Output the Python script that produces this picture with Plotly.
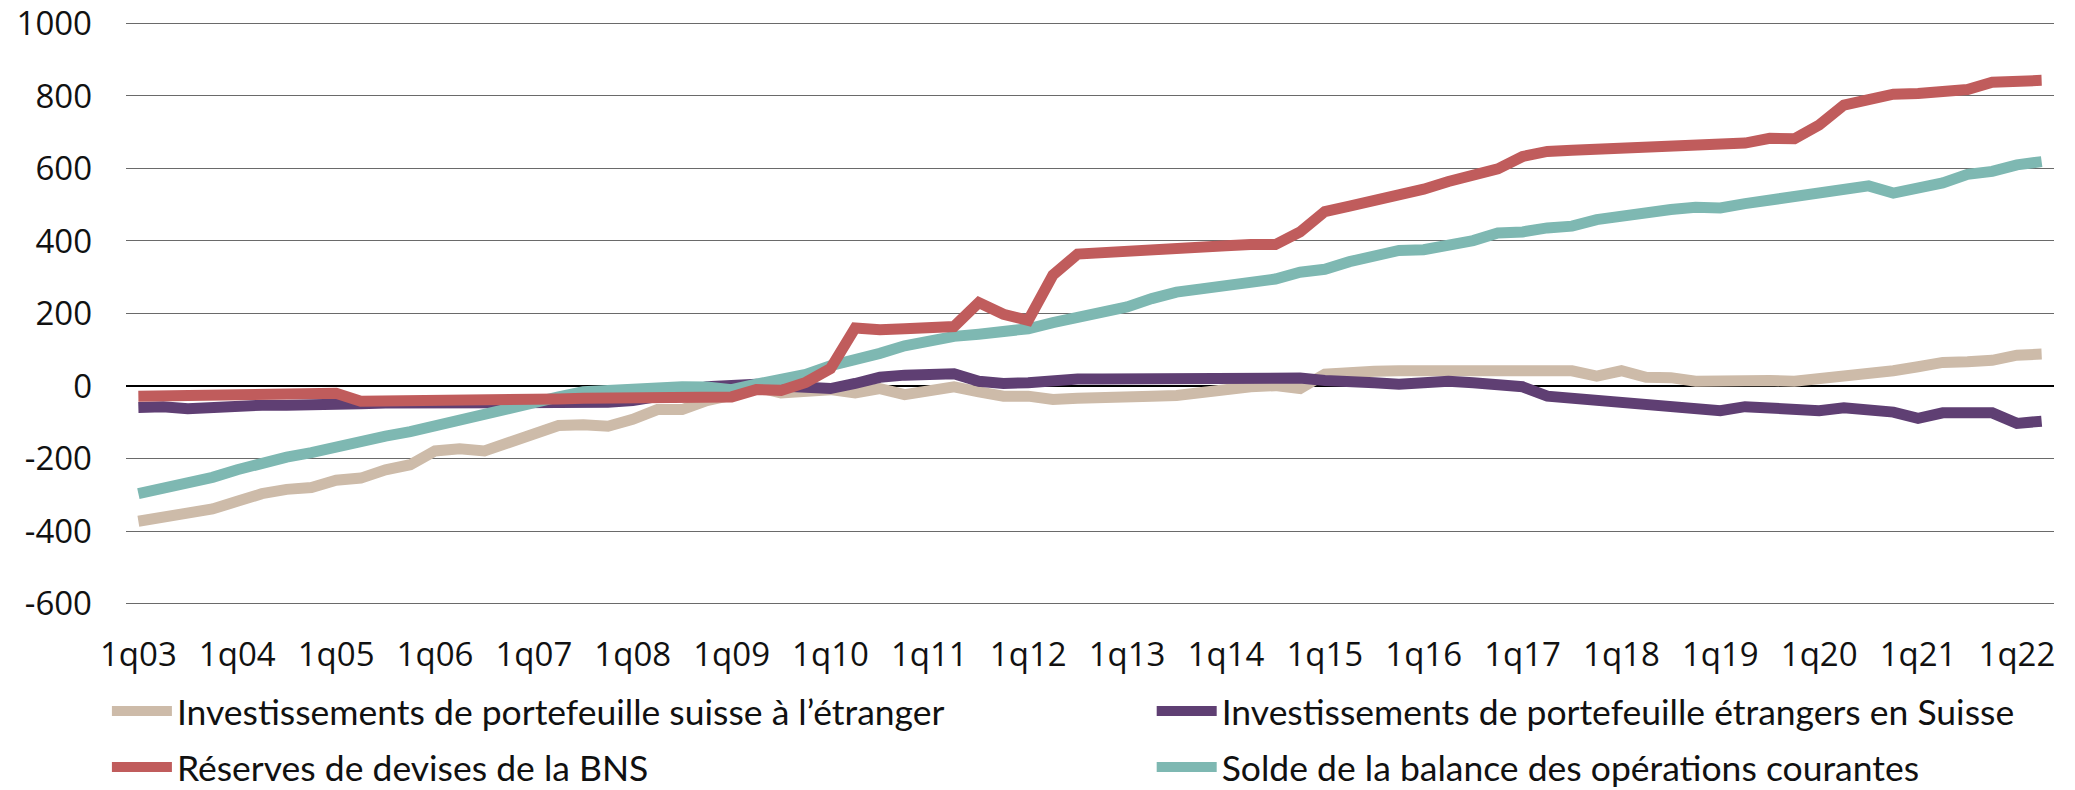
import plotly.graph_objects as go

# quarters 1q03 .. 2q22
quarters = [f"{q}q{y:02d}" for y in range(3, 23) for q in range(1, 5)][:78]
tick_labels = [f"1q{y:02d}" for y in range(3, 23)]
y_ticks = [-600, -400, -200, 0, 200, 400, 600, 800, 1000]

portefeuille_suisse_etranger = [
    -373, -362, -347, -339, -318, -297, -285, -280, -260, -254,
    -231, -217, -179, -173, -179, -155, -132, -109, -107, -111,
    -92, -65, -65, -40, -25, -3, -19, -14, -10, -19,
    -7, -24, -10, -2, -16, -28, -28, -37, -34, -34,
    -28, -28, -26, -16, -10, -2, 1, -7, 33, 39,
    41, 42, 42, 42, 42, 42, 44, 44, 42, 27,
    42, 24, 23, 13, 15, 13, 15, 13, 19, 30,
    34, 42, 53, 65, 67, 71, 85, 88,
]

portefeuille_etrangers_suisse = [
    -59, -57, -63, -58, -57, -53, -53, -53, -55, -49,
    -47, -47, -46, -46, -46, -46, -47, -49, -49, -45,
    -40, -30, -18, -2, 3, 5, 0, -5, -7, 7,
    24, 30, 32, 34, 13, 7, 9, 15, 19, 19,
    19, 24, 24, 21, 21, 23, 24, 22, 15, 15,
    9, 5, 9, 13, 9, 1, -2, -28, -34, -36,
    -45, -48, -57, -63, -68, -57, -60, -65, -68, -60,
    -68, -72, -89, -74, -74, -74, -103, -97,
]

reserves_bns = [
    -28, -27, -26, -24, -23, -22, -21, -20, -20, -42,
    -42, -42, -42, -42, -42, -40, -38, -36, -34, -34,
    -33, -30, -31, -30, -30, -10, -12, 10, 48, 160,
    155, 158, 161, 164, 230, 198, 181, 306, 364, 369,
    371, 375, 378, 384, 387, 390, 390, 425, 481, 496,
    511, 523, 543, 564, 578, 599, 633, 647, 650, 653,
    657, 658, 662, 665, 667, 670, 683, 682, 720, 775,
    790, 805, 807, 816, 818, 838, 842, 843,
]

solde_courant = [
    -297, -283, -271, -252, -231, -211, -196, -184, -167, -150,
    -138, -126, -109, -92, -74, -57, -45, -30, -16, -13,
    -10, 0, -2, -3, -10, 5, 15, 32, 56, 71,
    90, 111, 125, 137, 143, 148, 158, 175, 190, 206,
    218, 241, 259, 268, 276, 288, 295, 314, 322, 343,
    362, 374, 376, 387, 401, 422, 425, 436, 441, 459,
    469, 483, 487, 493, 491, 503, 513, 525, 534, 539,
    552, 532, 545, 560, 584, 592, 610, 619,
]

# name, values, colour, legend box (left column = legend, right column = legend2)
series = [
    ("Investissements de portefeuille suisse à l’étranger", portefeuille_suisse_etranger, "#CDBBA9", "legend"),
    ("Investissements de portefeuille étrangers en Suisse", portefeuille_etrangers_suisse, "#5F3F73", "legend2"),
    ("Solde de la balance des opérations courantes", solde_courant, "#7EB8B2", "legend2"),
    ("Réserves de devises de la BNS", reserves_bns, "#C05C5C", "legend"),
]

fig = go.Figure()
for i, (name, vals, color, leg) in enumerate(series):
    fig.add_trace(go.Scatter(
        x=quarters, y=vals, name=name, mode="lines",
        line=dict(color=color, width=11),
        legend=leg, legendgroup=name,
        legendrank=1 if i < 2 else 2,
    ))

font_main = "Open Sans, Noto Sans, sans-serif"
legend_font = dict(family="Lato, Open Sans, sans-serif", size=35.5, color="#111111")

# y range padded a little so the -600 and 1000 gridlines are not clipped at the edges
y_range = [-604, 1004]

fig.update_layout(
    width=2075, height=790,
    margin=dict(l=126, r=21, t=22, b=185),
    plot_bgcolor="white", paper_bgcolor="white",
    font=dict(family=font_main, size=33, color="#111111"),
    showlegend=True,
    legend=dict(
        xref="paper", yref="container", x=-0.0099, y=0.1375,
        xanchor="left", yanchor="top", orientation="v",
        font=legend_font, itemwidth=60, tracegroupgap=7,
    ),
    legend2=dict(
        xref="paper", yref="container", x=0.5320, y=0.1375,
        xanchor="left", yanchor="top", orientation="v",
        font=legend_font, itemwidth=60, tracegroupgap=7,
    ),
    xaxis=dict(
        type="category", categoryorder="array", categoryarray=quarters,
        range=[-0.5, 77.5], automargin=False,
        tickmode="array", tickvals=tick_labels, ticktext=tick_labels,
        ticks="", showline=False, showgrid=False, zeroline=False,
        ticklabelstandoff=27, ticklabeloverflow="allow",
    ),
    # short tick marks along the zero line
    xaxis2=dict(
        overlaying="x", anchor="free",
        position=(0 - y_range[0]) / (y_range[1] - y_range[0]),
        range=[-0.5, 77.5], automargin=False,
        tickmode="array", tickvals=[1.5 + 4 * k for k in range(20)],
        ticks="outside", ticklen=7, tickwidth=1.5, tickcolor="black",
        showticklabels=False, showline=False, showgrid=False, zeroline=False,
    ),
    yaxis=dict(
        range=y_range, automargin=False,
        tickmode="array", tickvals=y_ticks, ticktext=[str(v) for v in y_ticks],
        showgrid=True, gridcolor="#6a6a6a", gridwidth=1,
        zeroline=True, zerolinecolor="black", zerolinewidth=1.5,
        showline=False, ticks="", ticklabelstandoff=33, ticklabeloverflow="allow",
    ),
)

# page body has a default 8px margin; remove it so the chart sits at the window origin
fig.write_html(
    "out.html",
    config={"displayModeBar": False},
    post_script="document.body.style.margin='0px';",
)
